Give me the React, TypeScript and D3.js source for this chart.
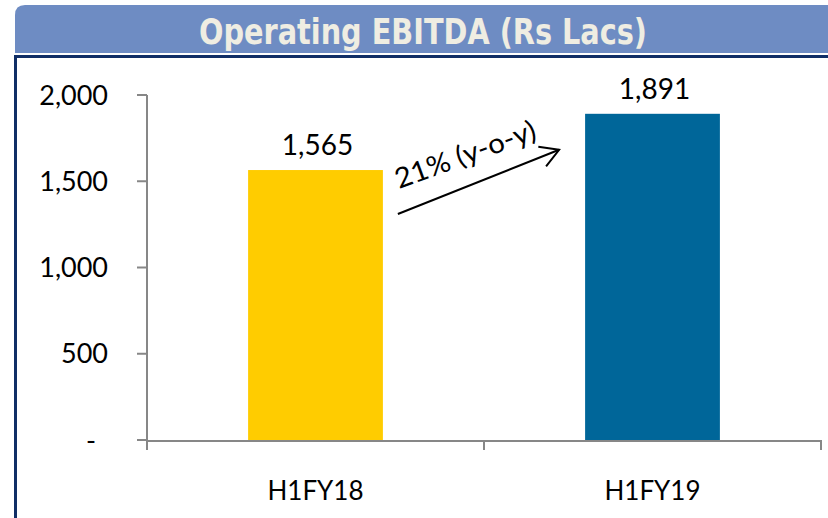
import React from "react";
import * as d3 from "d3";

const categories = ["H1FY18", "H1FY19"];
const values = [1565, 1891];
const barColors = ["#FFCC00", "#006699"];
const yTicks = [0, 500, 1000, 1500, 2000];
const title = "Operating EBITDA (Rs Lacs)";
const growthLabel = "21% (y-o-y)";

const W = 828;
const H = 518;
const plot = { left: 147, right: 821, top: 95, bottom: 440 };
const FONT = "Lato, 'Open Sans', 'Liberation Sans', sans-serif";
const AXIS = "#878787";

export default function App() {
  const x = d3
    .scaleBand<string>()
    .domain(categories)
    .range([plot.left, plot.right])
    .paddingInner(0.6)
    .paddingOuter(0.3);
  const y = d3.scaleLinear().domain([0, 2000]).range([plot.bottom, plot.top]);
  const fmt = d3.format(",");
  const step = x.step();

  // arrow from just right of the first bar top toward the second bar top
  const x0 = (x(categories[0]) as number) + x.bandwidth() + 15;
  const y0 = y(values[0]) + 44;
  const x1 = (x(categories[1]) as number) - 26;
  const y1 = y(values[1]) + 36;
  const ang = Math.atan2(y1 - y0, x1 - x0);
  const headLen = 21;
  const a1 = ang + Math.PI - Math.PI / 6;
  const a2 = ang + Math.PI + Math.PI / 6;
  const head = `M${x1 + headLen * Math.cos(a1)},${y1 + headLen * Math.sin(a1)} L${x1},${y1} L${x1 + headLen * Math.cos(a2)},${y1 + headLen * Math.sin(a2)}`;

  const xBoundaries = d3.range(categories.length + 1).map((i) => plot.left + i * step);

  return (
    <svg
      width={W}
      height={H}
      style={{ position: "absolute", left: 0, top: 0, background: "#fff" }}
    >
      <rect x={0} y={0} width={W} height={H} fill="#fff" />
      {/* banner */}
      <path
        d={`M15,53 L15,15 Q15,5 25,5 L${W},5 L${W},53 Z`}
        fill="#6E8CC3"
      />
      <text
        x={423}
        y={44}
        textAnchor="middle"
        fill="#EFEDE2"
        fontFamily="'DejaVu Sans Condensed', 'DejaVu Sans', sans-serif"
        fontWeight="bold"
        fontSize={35}
        textLength={448}
        lengthAdjust="spacingAndGlyphs"
      >
        {title}
      </text>
      {/* frame */}
      <rect x={14} y={55} width={W - 14} height={3} fill="#102E66" />
      <rect x={14} y={55} width={3} height={H - 55} fill="#102E66" />

      {/* y axis */}
      <line x1={plot.left} x2={plot.left} y1={y(2000)} y2={plot.bottom} stroke={AXIS} strokeWidth={2} />
      {yTicks.map((t) => (
        <g key={t}>
          <line x1={plot.left - 10} x2={plot.left} y1={y(t)} y2={y(t)} stroke={AXIS} strokeWidth={2} />
          <text
            x={t === 0 ? 96 : 108}
            y={y(t)}
            dy="0.36em"
            textAnchor="end"
            fontFamily={FONT}
            fontSize={27}
            fill="#000"
          >
            {t === 0 ? "-" : fmt(t)}
          </text>
        </g>
      ))}

      {/* bars */}
      {categories.map((c, i) => (
        <rect
          key={c}
          x={x(c)}
          y={y(values[i])}
          width={x.bandwidth()}
          height={plot.bottom - y(values[i])}
          fill={barColors[i]}
        />
      ))}

      {/* x axis */}
      <line x1={plot.left} x2={plot.right} y1={plot.bottom + 1} y2={plot.bottom + 1} stroke={AXIS} strokeWidth={2} />
      {xBoundaries.map((bx, i) => (
        <line key={i} x1={bx} x2={bx} y1={plot.bottom} y2={plot.bottom + 10} stroke={AXIS} strokeWidth={2} />
      ))}
      {categories.map((c) => (
        <text
          key={c}
          x={(x(c) as number) + x.bandwidth() / 2}
          y={500}
          textAnchor="middle"
          fontFamily={FONT}
          fontSize={26}
          fill="#000"
        >
          {c}
        </text>
      ))}

      {/* value labels */}
      {categories.map((c, i) => (
        <text
          key={c}
          x={(x(c) as number) + x.bandwidth() / 2 + 2}
          y={y(values[i]) - 15}
          textAnchor="middle"
          fontFamily={FONT}
          fontSize={28}
          fill="#000"
        >
          {fmt(values[i])}
        </text>
      ))}

      {/* growth arrow */}
      <line x1={x0} y1={y0} x2={x1} y2={y1} stroke="#000" strokeWidth={2} />
      <path d={head} fill="none" stroke="#000" strokeWidth={2} />
      <text
        transform={`translate(${x0 + 1},${y0 - 25}) rotate(-20)`}
        fontFamily={FONT}
        fontSize={28}
        fill="#000"
        textLength={148}
        lengthAdjust="spacingAndGlyphs"
      >
        {growthLabel}
      </text>
    </svg>
  );
}
